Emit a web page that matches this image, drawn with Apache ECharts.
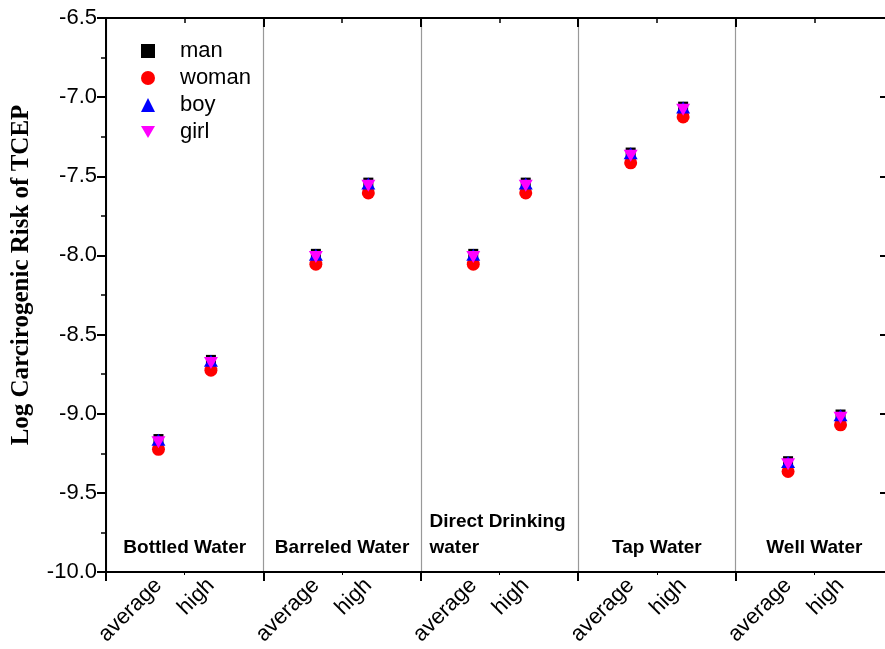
<!DOCTYPE html>
<html>
<head>
<meta charset="utf-8">
<script src="https://cdn.jsdelivr.net/npm/echarts@6/dist/echarts.min.js"></script>
<style>html,body{margin:0;padding:0;background:#fff}#c{width:885px;height:649px}</style>
</head>
<body>
<div id="c"></div>
<script>
var groups = ['Bottled Water', 'Barreled Water', 'Direct Drinking\nwater', 'Tap Water', 'Well Water'];
var levels = ['average', 'high'];
var yTicks = [-10.0, -9.5, -9.0, -8.5, -8.0, -7.5, -7.0, -6.5];
// values ordered: group0 average, group0 high, group1 average, ...
var man   = [-9.160, -8.660, -7.990, -7.540, -7.990, -7.540, -7.350, -7.060, -9.300, -9.005];
var woman = [-9.225, -8.725, -8.055, -7.605, -8.055, -7.605, -7.415, -7.125, -9.365, -9.070];
var boy   = [-9.165, -8.665, -7.995, -7.545, -7.995, -7.545, -7.355, -7.065, -9.305, -9.010];
var girl  = [-9.180, -8.680, -8.010, -7.560, -8.010, -7.560, -7.370, -7.080, -9.320, -9.025];

function toPoints(arr) {
  return arr.map(function (v, i) {
    var g = Math.floor(i / levels.length), l = i % levels.length;
    return [g * 3 + l + 1, v];
  });
}
var FONT = 'Liberation Sans, Arial, sans-serif';
var xMax = groups.length * 3;
var chart = echarts.init(document.getElementById('c'));
chart.setOption({
  animation: false,
  backgroundColor: '#fff',
  grid: { left: 106, top: 18, right: -8, bottom: 77, containLabel: false, outerBoundsMode: 'none' },
  legend: {
    orient: 'vertical', left: 136, top: 35, itemGap: 5,
    itemWidth: 14, itemHeight: 14,
    textStyle: { fontFamily: FONT, fontSize: 22, color: '#000', padding: [0, 0, 0, 20] },
    data: ['man', 'woman', 'boy', 'girl']
  },
  xAxis: [
    { type: 'value', min: 0, max: xMax, interval: 3, position: 'bottom',
      axisLine: { show: true, onZero: false, lineStyle: { color: '#000', width: 2 } },
      axisTick: { show: true, inside: false, length: 9, lineStyle: { color: '#000', width: 2 } },
      minorTick: { show: true, splitNumber: 2, length: 3, lineStyle: { color: '#000', width: 1 } },
      splitLine: { show: true, lineStyle: { color: '#999', width: 1.2 } },
      axisLabel: { show: false } },
    { type: 'value', min: 0, max: xMax, interval: 1, position: 'bottom',
      axisLine: { show: false, onZero: false }, axisTick: { show: false }, splitLine: { show: false },
      axisLabel: { show: true, rotate: 45, margin: 10, fontFamily: FONT, fontSize: 22, color: '#000',
        formatter: function (v) { var r = Math.round(v) % 3; return r === 0 ? '' : levels[r - 1]; } } },
    { type: 'value', min: 0, max: xMax, interval: 1.5, position: 'bottom',
      axisLine: { show: false, onZero: false }, axisTick: { show: false }, splitLine: { show: false },
      axisLabel: { show: true, inside: true, margin: 11, fontFamily: FONT, fontSize: 19, fontWeight: 'bold', color: '#000', lineHeight: 26,
        formatter: function (v) {
          var k = Math.round(v / 1.5); if (k % 2 !== 1) return '';
          var name = groups[(k - 1) / 2];
          if (name.indexOf('\n') < 0) return name;
          return '{g|' + name.split('\n').join('}\n{g|') + '}';
        },
        rich: { g: { fontFamily: FONT, fontSize: 19, fontWeight: 'bold', color: '#000', width: 140, align: 'left', lineHeight: 26 } } } },
    { type: 'value', min: 0, max: xMax, interval: 3, position: 'top',
      axisLine: { show: true, onZero: false, lineStyle: { color: '#000', width: 2 } },
      axisTick: { show: true, inside: true, length: 9, lineStyle: { color: '#000', width: 2 } },
      minorTick: { show: true, splitNumber: 2, length: 5, lineStyle: { color: '#000', width: 1.5 } },
      splitLine: { show: false }, axisLabel: { show: false } }
  ],
  yAxis: [
    { type: 'value', min: yTicks[0], max: yTicks[yTicks.length - 1], interval: 0.5, position: 'left',
      name: 'Log Carcirogenic Risk of TCEP', nameLocation: 'middle', nameGap: 72,
      nameTextStyle: { fontFamily: 'Liberation Serif, Times New Roman, serif', fontSize: 25, fontWeight: 'bold', color: '#000', padding: [0, 0, 0, 40] },
      axisLine: { show: true, onZero: false, lineStyle: { color: '#000', width: 2 } },
      axisTick: { show: true, inside: false, length: 9, lineStyle: { color: '#000', width: 2 } },
      minorTick: { show: true, splitNumber: 2, length: 5, lineStyle: { color: '#000', width: 1.5 } },
      splitLine: { show: false },
      axisLabel: { fontFamily: FONT, fontSize: 22, color: '#000', margin: 9, formatter: function (v) { return v.toFixed(1); } } },
    { type: 'value', min: yTicks[0], max: yTicks[yTicks.length - 1], interval: 0.5, position: 'right',
      axisLine: { show: true, onZero: false, lineStyle: { color: '#000', width: 2 } },
      axisTick: { show: true, inside: true, length: 13, lineStyle: { color: '#000', width: 2 } },
      minorTick: { show: false },
      splitLine: { show: false }, axisLabel: { show: false } }
  ],
  series: [
    { name: 'man', type: 'scatter', xAxisIndex: 0, yAxisIndex: 0, symbol: 'rect', symbolSize: 10,
      itemStyle: { color: '#000', opacity: 1 }, data: toPoints(man) },
    { name: 'woman', type: 'scatter', xAxisIndex: 0, yAxisIndex: 0, symbol: 'circle', symbolSize: 13,
      itemStyle: { color: '#ff0000', opacity: 1 }, data: toPoints(woman) },
    { name: 'boy', type: 'scatter', xAxisIndex: 0, yAxisIndex: 0, symbol: 'triangle', symbolSize: [14, 12],
      itemStyle: { color: '#0000ff', opacity: 1 }, data: toPoints(boy) },
    { name: 'girl', type: 'scatter', xAxisIndex: 0, yAxisIndex: 0, symbol: 'path://M0,0L2,0L1,1.732Z', symbolSize: [14, 12],
      itemStyle: { color: '#ff00ff', opacity: 1 }, data: toPoints(girl) }
  ]
});
</script>
</body>
</html>
